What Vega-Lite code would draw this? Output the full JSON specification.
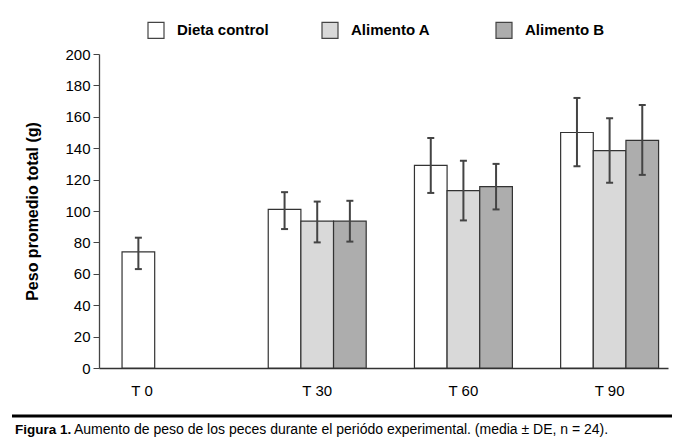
{
  "$schema": "https://vega.github.io/schema/vega-lite/v6.json",
  "background": "white",
  "padding": {"left": 10, "top": 21, "right": 5, "bottom": 5},
  "config": {
    "view": {"stroke": null},
    "font": "Liberation Sans",
    "axisY": {
      "titleFontSize": 16,
      "titleFontWeight": "bold",
      "titleColor": "#000000",
      "titlePadding": 24,
      "labelOverlap": false,
      "labelFontSize": 15,
      "labelColor": "#000000",
      "labelPadding": 3,
      "tickSize": 6,
      "tickColor": "#444444",
      "domainColor": "#444444",
      "domainWidth": 1.3,
      "grid": false
    }
  },
  "columns": 1,
  "spacing": 16,
  "concat": [
    {
      "width": 569,
      "height": 314,
      "data": {
        "values": [
          {"time": "T 0", "group": "Dieta control", "mean": 74, "lo": 63, "hi": 83},
          {"time": "T 30", "group": "Dieta control", "mean": 101, "lo": 88.5, "hi": 112},
          {"time": "T 30", "group": "Alimento A", "mean": 93.5, "lo": 80, "hi": 106},
          {"time": "T 30", "group": "Alimento B", "mean": 93.5, "lo": 80.5, "hi": 106.5},
          {"time": "T 60", "group": "Dieta control", "mean": 129, "lo": 111.5, "hi": 146.5},
          {"time": "T 60", "group": "Alimento A", "mean": 113, "lo": 94, "hi": 132},
          {"time": "T 60", "group": "Alimento B", "mean": 115.5, "lo": 101, "hi": 130},
          {"time": "T 90", "group": "Dieta control", "mean": 150, "lo": 128.5, "hi": 172},
          {"time": "T 90", "group": "Alimento A", "mean": 138.5, "lo": 118, "hi": 159},
          {"time": "T 90", "group": "Alimento B", "mean": 145, "lo": 123, "hi": 167.5}
        ]
      },
      "encoding": {
        "x": {
          "field": "time",
          "type": "nominal",
          "sort": ["T 0", "T 30", "T 60", "T 90"],
          "scale": {"paddingInner": 0.33, "paddingOuter": 0.111, "align": 0.71},
          "axis": {
            "title": null,
            "labelAngle": 0,
            "ticks": false,
            "domainColor": "#333333",
            "domainWidth": 1.3,
            "labelFontSize": 15,
            "labelColor": "#000000",
            "labelPadding": 15,
            "labelOffset": {"condition": {"test": "datum.value === 'T 0'", "value": -29}, "value": 0}
          }
        },
        "xOffset": {"field": "group", "type": "nominal", "sort": ["Dieta control", "Alimento A", "Alimento B"]}
      },
      "layer": [
        {
          "mark": {"type": "bar", "stroke": "#333333", "strokeWidth": 1.2},
          "encoding": {
            "y": {
              "field": "mean",
              "type": "quantitative",
              "scale": {"domain": [0, 200], "nice": false},
              "axis": {"title": "Peso promedio total (g)", "values": [0, 20, 40, 60, 80, 100, 120, 140, 160, 180, 200], "tickCount": 11}
            },
            "fill": {
              "field": "group",
              "type": "nominal",
              "scale": {"domain": ["Dieta control", "Alimento A", "Alimento B"], "range": ["#ffffff", "#d9d9d9", "#adadad"]},
              "legend": {
                "title": null,
                "orient": "none",
                "legendX": 48,
                "legendY": -33,
                "direction": "horizontal",
                "columns": 3,
                "gridAlign": "all",
                "columnPadding": 50,
                "symbolType": "square",
                "symbolSize": 256,
                "symbolStrokeColor": "#444444",
                "symbolStrokeWidth": 1.2,
                "symbolOpacity": 1,
                "labelFontSize": 15,
                "labelFontWeight": "bold",
                "labelColor": "#000000",
                "labelOffset": 12
              }
            }
          }
        },
        {
          "mark": {"type": "rule", "color": "#444444", "strokeWidth": 2},
          "encoding": {
            "y": {"field": "lo", "type": "quantitative", "axis": {"title": "Peso promedio total (g)", "values": [0, 20, 40, 60, 80, 100, 120, 140, 160, 180, 200], "tickCount": 11}},
            "y2": {"field": "hi"}
          }
        },
        {
          "mark": {"type": "tick", "color": "#444444", "thickness": 2, "size": 7, "opacity": 1},
          "encoding": {"y": {"field": "lo", "type": "quantitative", "axis": {"title": "Peso promedio total (g)", "values": [0, 20, 40, 60, 80, 100, 120, 140, 160, 180, 200], "tickCount": 11}}}
        },
        {
          "mark": {"type": "tick", "color": "#444444", "thickness": 2, "size": 7, "opacity": 1},
          "encoding": {"y": {"field": "hi", "type": "quantitative", "axis": {"title": "Peso promedio total (g)", "values": [0, 20, 40, 60, 80, 100, 120, 140, 160, 180, 200], "tickCount": 11}}}
        }
      ]
    },
    {
      "width": 569,
      "height": 18,
      "data": {"values": [{"caption": "Aumento de peso de los peces durante el periódo experimental. (media ± DE, n = 24).", "label": "Figura 1."}]},
      "layer": [
        {
          "mark": {"type": "rule", "color": "#000000", "strokeWidth": 3, "xOffset": -87, "x2Offset": 4},
          "encoding": {
            "x": {"datum": 0, "type": "quantitative", "scale": {"domain": [0, 1]}, "axis": null},
            "x2": {"datum": 1},
            "y": {"datum": 1, "type": "quantitative", "scale": {"domain": [0, 1]}, "axis": null}
          }
        },
        {
          "mark": {"type": "text", "align": "left", "baseline": "alphabetic", "fontSize": 13.5, "fontWeight": "bold", "dx": -84, "color": "#000000"},
          "encoding": {
            "x": {"datum": 0, "type": "quantitative"},
            "y": {"datum": 0, "type": "quantitative"},
            "text": {"field": "label"}
          }
        },
        {
          "mark": {"type": "text", "align": "left", "baseline": "alphabetic", "fontSize": 14, "dx": -25, "color": "#000000"},
          "encoding": {
            "x": {"datum": 0, "type": "quantitative"},
            "y": {"datum": 0, "type": "quantitative"},
            "text": {"field": "caption"}
          }
        }
      ]
    }
  ]
}
